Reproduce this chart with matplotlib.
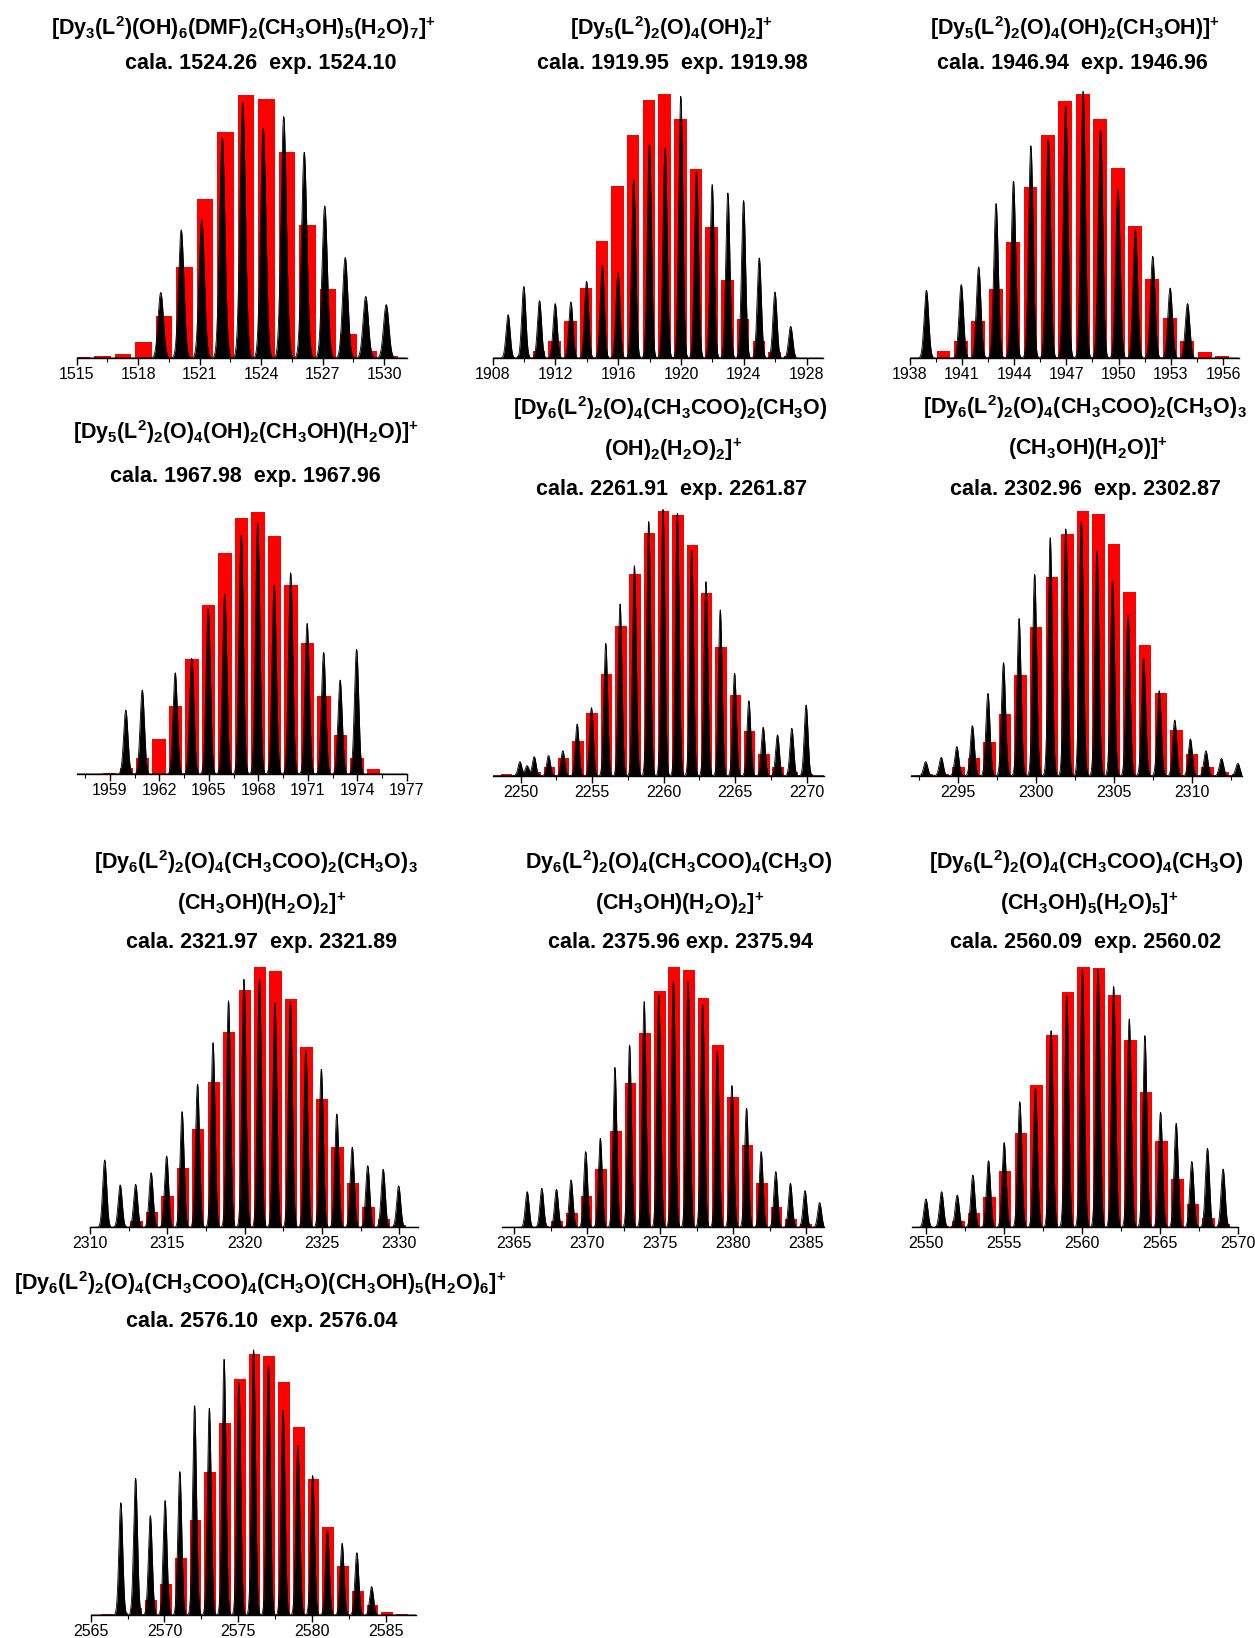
import numpy as np
import matplotlib
matplotlib.use("Agg")
import matplotlib.pyplot as plt
from matplotlib.ticker import MultipleLocator

plt.rcParams['font.family'] = ['Liberation Sans', 'DejaVu Sans']
plt.rcParams['mathtext.fontset'] = 'custom'
plt.rcParams['mathtext.rm'] = 'Liberation Sans:bold'
plt.rcParams['mathtext.bf'] = 'Liberation Sans:bold'
plt.rcParams['mathtext.it'] = 'Liberation Sans:bold'
plt.rcParams['mathtext.default'] = 'bf'

# ---------------- data ----------------
# Panel 1
p1_calc_mz = [1515.26, 1516.26, 1517.26, 1518.26, 1519.26, 1520.26, 1521.26, 1522.26,
              1523.26, 1524.26, 1525.26, 1526.26, 1527.26, 1528.26, 1529.26, 1530.26]
p1_calc_int = [0.004, 0.006, 0.016, 0.06, 0.16, 0.345, 0.605, 0.858,
               1.0, 0.985, 0.782, 0.506, 0.262, 0.091, 0.025, 0.006]
p1_exp_mz = [1519.1, 1520.1, 1521.1, 1522.1, 1523.1, 1524.1, 1525.1, 1526.1,
             1527.1, 1528.1, 1529.1, 1530.1]
p1_exp_int = [0.249, 0.487, 0.525, 0.839, 0.971, 0.873, 0.918, 0.782,
              0.578, 0.382, 0.234, 0.203]

# Panel 2
p2_calc_mz = [1909.95, 1910.95, 1911.95, 1912.95, 1913.95, 1914.95, 1915.95, 1916.95, 1917.95,
              1918.95, 1919.95, 1920.95, 1921.95, 1922.95, 1923.95, 1924.95, 1925.95, 1926.95]
p2_calc_int = [0.006, 0.028, 0.066, 0.139, 0.265, 0.442, 0.65, 0.846, 0.979,
               1.0, 0.905, 0.716, 0.496, 0.294, 0.148, 0.063, 0.021, 0.009]
p2_exp_mz = [1908.98, 1909.98, 1910.98, 1911.98, 1912.98, 1913.98, 1914.98, 1915.98, 1916.98, 1917.98,
             1918.98, 1919.98, 1920.98, 1921.98, 1922.98, 1923.98, 1924.98, 1925.98, 1926.98]
p2_exp_int = [0.164, 0.271, 0.217, 0.206, 0.212, 0.29, 0.351, 0.322, 0.675, 0.808,
              0.795, 0.991, 0.707, 0.657, 0.625, 0.596, 0.379, 0.25, 0.12]

# Panel 3
p3_calc_mz = [1939.94, 1940.94, 1941.94, 1942.94, 1943.94, 1944.94, 1945.94, 1946.94, 1947.94,
              1948.94, 1949.94, 1950.94, 1951.94, 1952.94, 1953.94, 1954.94, 1955.94]
p3_calc_int = [0.028, 0.066, 0.139, 0.263, 0.439, 0.646, 0.843, 0.975, 1.0,
               0.907, 0.72, 0.499, 0.299, 0.152, 0.063, 0.023, 0.006]
p3_exp_mz = [1938.96, 1940.96, 1941.96, 1942.96, 1943.96, 1944.96, 1945.96, 1946.96,
             1947.96, 1948.96, 1949.96, 1950.96, 1951.96, 1952.96, 1953.96]
p3_exp_int = [0.256, 0.278, 0.345, 0.585, 0.669, 0.804, 0.83, 0.953,
              1.01, 0.862, 0.638, 0.486, 0.385, 0.265, 0.206]

# Panel 4
p4_calc_mz = [1958.98, 1959.98, 1960.98, 1961.98, 1962.98, 1963.98, 1964.98, 1965.98, 1966.98,
              1967.98, 1968.98, 1969.98, 1970.98, 1971.98, 1972.98, 1973.98, 1974.98]
p4_calc_int = [0.005, 0.022, 0.06, 0.133, 0.259, 0.437, 0.644, 0.844, 0.977,
               1.0, 0.907, 0.72, 0.498, 0.297, 0.149, 0.06, 0.019]
p4_exp_mz = [1959.96, 1960.96, 1962.96, 1963.96, 1964.96, 1965.96, 1966.96,
             1967.96, 1968.96, 1969.96, 1970.96, 1971.96, 1972.96, 1973.96]
p4_exp_int = [0.244, 0.32, 0.386, 0.441, 0.628, 0.686, 0.911,
              0.956, 0.72, 0.767, 0.574, 0.463, 0.358, 0.475]

# Panel 5
p5_calc_mz = [2249.0, 2250.0, 2251.0, 2252.0, 2253.0, 2254.0, 2255.0, 2256.0, 2257.0, 2258.0, 2259.0,
              2260.0, 2261.0, 2262.0, 2263.0, 2264.0, 2265.0, 2266.0, 2267.0, 2268.0, 2269.0, 2270.0]
p5_calc_int = [0.005, 0.005, 0.015, 0.031, 0.065, 0.131, 0.236, 0.383, 0.567, 0.761, 0.916,
               1.0, 0.985, 0.872, 0.689, 0.487, 0.305, 0.169, 0.081, 0.034, 0.013, 0.005]
p5_exp_mz = [2249.95, 2250.45, 2250.95, 2251.95, 2252.95, 2253.95, 2254.95, 2255.95, 2256.95, 2257.95, 2258.95,
             2259.95, 2260.95, 2261.95, 2262.95, 2263.95, 2264.95, 2265.95, 2266.95, 2267.95, 2268.95, 2269.95]
p5_exp_int = [0.053, 0.038, 0.072, 0.076, 0.094, 0.195, 0.257, 0.5, 0.649, 0.793, 0.96,
              1.006, 0.991, 0.853, 0.733, 0.626, 0.387, 0.283, 0.183, 0.154, 0.179, 0.267]

# Panel 6
p6_calc_mz = [2293.0, 2294.0, 2295.0, 2296.0, 2297.0, 2298.0, 2299.0, 2300.0, 2301.0, 2302.0, 2303.0,
              2304.0, 2305.0, 2306.0, 2307.0, 2308.0, 2309.0, 2310.0, 2311.0, 2312.0, 2313.0]
p6_calc_int = [0.005, 0.005, 0.031, 0.065, 0.126, 0.232, 0.38, 0.563, 0.752, 0.913, 1.0,
               0.987, 0.875, 0.695, 0.494, 0.311, 0.173, 0.082, 0.034, 0.013, 0.005]
p6_exp_mz = [2292.9, 2293.9, 2294.9, 2295.9, 2296.9, 2297.9, 2298.9, 2299.9, 2300.9, 2301.9, 2302.9,
             2303.9, 2304.9, 2305.9, 2306.9, 2307.9, 2308.9, 2309.9, 2310.9, 2311.9, 2312.95]
p6_exp_int = [0.053, 0.069, 0.11, 0.189, 0.311, 0.427, 0.594, 0.761, 0.899, 0.932, 0.96,
              0.849, 0.736, 0.605, 0.443, 0.321, 0.21, 0.139, 0.094, 0.065, 0.047]

# Panel 7
p7_calc_mz = [2312.0, 2313.0, 2314.0, 2315.0, 2316.0, 2317.0, 2318.0, 2319.0, 2320.0, 2321.0,
              2322.0, 2323.0, 2324.0, 2325.0, 2326.0, 2327.0, 2328.0, 2329.0, 2330.0]
p7_calc_int = [0.006, 0.024, 0.06, 0.122, 0.227, 0.377, 0.56, 0.753, 0.913, 1.0,
               0.987, 0.877, 0.695, 0.494, 0.31, 0.169, 0.079, 0.032, 0.009]
p7_exp_mz = [2310.95, 2311.95, 2312.95, 2313.95, 2314.95, 2315.95, 2316.95, 2317.95, 2318.95, 2319.95,
             2320.95, 2321.95, 2322.95, 2323.95, 2324.95, 2325.95, 2326.95, 2327.95, 2328.95, 2329.95]
p7_exp_int = [0.259, 0.163, 0.165, 0.21, 0.274, 0.445, 0.551, 0.71, 0.871, 0.954,
              0.954, 0.862, 0.868, 0.682, 0.608, 0.436, 0.308, 0.237, 0.223, 0.159]

# Panel 8
p8_calc_mz = [2365.96, 2366.96, 2367.96, 2368.96, 2369.96, 2370.96, 2371.96, 2372.96, 2373.96, 2374.96, 2375.96,
              2376.96, 2377.96, 2378.96, 2379.96, 2380.96, 2381.96, 2382.96, 2383.96, 2384.96, 2385.96]
p8_calc_int = [0.003, 0.004, 0.024, 0.056, 0.121, 0.224, 0.372, 0.556, 0.749, 0.91, 1.0,
               0.99, 0.881, 0.701, 0.5, 0.317, 0.172, 0.079, 0.032, 0.012, 0.003]
p8_exp_mz = [2365.9, 2366.9, 2367.9, 2368.9, 2369.9, 2370.9, 2371.9, 2372.9, 2373.9, 2374.9, 2375.9,
             2376.9, 2377.9, 2378.9, 2379.9, 2380.9, 2381.9, 2382.9, 2383.9, 2384.9, 2385.9]
p8_exp_int = [0.137, 0.15, 0.146, 0.182, 0.291, 0.342, 0.615, 0.701, 0.868, 0.894, 0.947,
              0.945, 0.855, 0.676, 0.545, 0.458, 0.291, 0.214, 0.169, 0.141, 0.095]

# Panel 9
p9_calc_mz = [2551.09, 2552.09, 2553.09, 2554.09, 2555.09, 2556.09, 2557.09, 2558.09, 2559.09, 2560.09,
              2561.09, 2562.09, 2563.09, 2564.09, 2565.09, 2566.09, 2567.09, 2568.09, 2569.09]
p9_calc_int = [0.005, 0.024, 0.056, 0.118, 0.218, 0.364, 0.547, 0.74, 0.904, 1.0,
               0.996, 0.894, 0.721, 0.519, 0.333, 0.186, 0.09, 0.037, 0.012]
p9_exp_mz = [2550.02, 2551.02, 2552.02, 2553.02, 2554.02, 2555.02, 2556.02, 2557.02, 2558.02, 2559.02,
             2560.02, 2561.02, 2562.02, 2563.02, 2564.02, 2565.02, 2566.02, 2567.02, 2568.02, 2569.02]
p9_exp_int = [0.109, 0.137, 0.124, 0.201, 0.256, 0.326, 0.483, 0.535, 0.756, 0.89,
              0.992, 0.992, 0.926, 0.801, 0.737, 0.442, 0.4, 0.253, 0.304, 0.224]

# Panel 10
p10_calc_mz = [2566.1, 2567.1, 2568.1, 2569.1, 2570.1, 2571.1, 2572.1, 2573.1, 2574.1, 2575.1, 2576.1,
               2577.1, 2578.1, 2579.1, 2580.1, 2581.1, 2582.1, 2583.1, 2584.1, 2585.1, 2586.1]
p10_calc_int = [0.004, 0.009, 0.026, 0.058, 0.119, 0.22, 0.364, 0.547, 0.738, 0.904, 1.0,
                0.995, 0.895, 0.723, 0.522, 0.336, 0.188, 0.093, 0.038, 0.013, 0.004]
p10_exp_mz = [2567.04, 2568.04, 2569.04, 2570.04, 2571.04, 2572.04, 2573.04, 2574.04, 2575.04,
              2576.04, 2577.04, 2578.04, 2579.04, 2580.04, 2581.04, 2582.04, 2583.04, 2584.04]
p10_exp_int = [0.431, 0.524, 0.381, 0.439, 0.55, 0.803, 0.793, 0.981, 0.892,
               1.017, 0.959, 0.784, 0.65, 0.535, 0.324, 0.275, 0.239, 0.109]

P = r'$^{{+}}$'
titles = [
    [r'[Dy$_3$(L$^2$)(OH)$_6$(DMF)$_2$(CH$_3$OH)$_5$(H$_2$O)$_7$]' + P, 'cala. 1524.26  exp. 1524.10'],
    [r'[Dy$_5$(L$^2$)$_2$(O)$_4$(OH)$_2$]' + P, 'cala. 1919.95  exp. 1919.98'],
    [r'[Dy$_5$(L$^2$)$_2$(O)$_4$(OH)$_2$(CH$_3$OH)]' + P, 'cala. 1946.94  exp. 1946.96'],
    [r'[Dy$_5$(L$^2$)$_2$(O)$_4$(OH)$_2$(CH$_3$OH)(H$_2$O)]' + P, 'cala. 1967.98  exp. 1967.96'],
    [r'[Dy$_6$(L$^2$)$_2$(O)$_4$(CH$_3$COO)$_2$(CH$_3$O)', r'(OH)$_2$(H$_2$O)$_2$]' + P,
     'cala. 2261.91  exp. 2261.87'],
    [r'[Dy$_6$(L$^2$)$_2$(O)$_4$(CH$_3$COO)$_2$(CH$_3$O)$_3$', r'(CH$_3$OH)(H$_2$O)]' + P,
     'cala. 2302.96  exp. 2302.87'],
    [r'[Dy$_6$(L$^2$)$_2$(O)$_4$(CH$_3$COO)$_2$(CH$_3$O)$_3$', r'(CH$_3$OH)(H$_2$O)$_2$]' + P,
     'cala. 2321.97  exp. 2321.89'],
    [r'Dy$_6$(L$^2$)$_2$(O)$_4$(CH$_3$COO)$_4$(CH$_3$O)', r'(CH$_3$OH)(H$_2$O)$_2$]' + P,
     'cala. 2375.96 exp. 2375.94'],
    [r'[Dy$_6$(L$^2$)$_2$(O)$_4$(CH$_3$COO)$_4$(CH$_3$O)', r'(CH$_3$OH)$_5$(H$_2$O)$_5$]' + P,
     'cala. 2560.09  exp. 2560.02'],
    [r'[Dy$_6$(L$^2$)$_2$(O)$_4$(CH$_3$COO)$_4$(CH$_3$O)(CH$_3$OH)$_5$(H$_2$O)$_6$]' + P,
     'cala. 2576.10  exp. 2576.04'],
]

calc_mz = [p1_calc_mz, p2_calc_mz, p3_calc_mz, p4_calc_mz, p5_calc_mz,
           p6_calc_mz, p7_calc_mz, p8_calc_mz, p9_calc_mz, p10_calc_mz]
calc_int = [p1_calc_int, p2_calc_int, p3_calc_int, p4_calc_int, p5_calc_int,
            p6_calc_int, p7_calc_int, p8_calc_int, p9_calc_int, p10_calc_int]
exp_mz = [p1_exp_mz, p2_exp_mz, p3_exp_mz, p4_exp_mz, p5_exp_mz,
          p6_exp_mz, p7_exp_mz, p8_exp_mz, p9_exp_mz, p10_exp_mz]
exp_int = [p1_exp_int, p2_exp_int, p3_exp_int, p4_exp_int, p5_exp_int,
           p6_exp_int, p7_exp_int, p8_exp_int, p9_exp_int, p10_exp_int]

# ---------------- layout (pixels) ----------------
W, H = 1255, 1638
# left_px, right_px, baseline_px, full-scale px, xlim, major step
layout = [
    (76.7, 406.7, 358.0, 263.0, (1515.0, 1531.1), 3),
    (492.7, 823.3, 358.0, 264.0, (1908.0, 1929.06), 4),
    (909.7, 1238.7, 358.0, 264.0, (1938.0, 1956.9), 3),
    (77.3, 406.7, 774.0, 262.3, (1957.02, 1977.0), 3),
    (492.7, 824.0, 775.7, 264.7, (2248.05, 2271.2), 5),
    (910.7, 1241.7, 775.7, 264.7, (2291.94, 2313.2), 5),
    (90.0, 418.0, 1227.3, 260.0, (2310.0, 2331.2), 5),
    (501.6, 824.0, 1227.3, 260.0, (2364.15, 2386.2), 5),
    (912.0, 1238.4, 1227.3, 260.0, (2549.13, 2570.0), 5),
    (90.7, 416.0, 1615.0, 260.7, (2565.0, 2587.05), 5),
]
title_pos = [
    [(243, 28), (261, 63)],
    [(672, 28), (672, 64)],
    [(1075, 28), (1072, 63)],
    [(246, 432), (245, 476)],
    [(670, 408), (673, 450), (672, 490)],
    [(1085, 407), (1088, 449), (1085, 489)],
    [(256, 862), (262, 904), (262, 943)],
    [(679, 862), (680, 904), (680, 943)],
    [(1086, 862), (1089, 904), (1086, 943)],
    [(260, 1283), (262, 1322)],
]

YTOP = 1.05
SIG = 0.13
RED = '#ff0000'

fig = plt.figure(figsize=(W / 100, H / 100), dpi=100)
fig.patch.set_facecolor('white')

for i in range(10):
    lp, rp, bp, fs, xl, step = layout[i]
    rect = [lp / W, 1 - bp / H, (rp - lp) / W, fs * YTOP / H]
    ax = fig.add_axes(rect)
    ax.set_xlim(*xl)
    ax.set_ylim(0, YTOP)

    ax.bar(calc_mz[i], calc_int[i], width=0.8, color=RED, linewidth=0, zorder=2)

    xs = np.linspace(xl[0], xl[1], 6000)
    ys = np.zeros_like(xs)
    for m, h in zip(exp_mz[i], exp_int[i]):
        ys += h * np.exp(-0.5 * ((xs - m) / SIG) ** 2)
    ax.fill_between(xs, 0, ys, color='black', linewidth=0, zorder=3)
    ax.plot(xs, ys, color='black', lw=0.6, zorder=3)

    for s in ('left', 'right', 'top'):
        ax.spines[s].set_visible(False)
    ax.spines['bottom'].set_linewidth(1.0)
    ax.spines['bottom'].set_zorder(4)
    ax.set_yticks([])
    ax.xaxis.set_major_locator(MultipleLocator(step))
    ax.xaxis.set_minor_locator(MultipleLocator(step / 2))
    ax.tick_params(axis='x', which='major', direction='out', length=5, width=1,
                   labelsize=11.5, pad=1.5, colors='black')
    ax.tick_params(axis='x', which='minor', direction='out', length=3, width=0.8)
    ax.patch.set_alpha(0)

    for txt, (tx, ty) in zip(titles[i], title_pos[i]):
        fig.text(tx / W, 1 - ty / H, txt, ha='center', va='center',
                 fontsize=15.5, fontweight='bold', color='black')

fig.savefig('out.png', dpi=100, facecolor='white')
